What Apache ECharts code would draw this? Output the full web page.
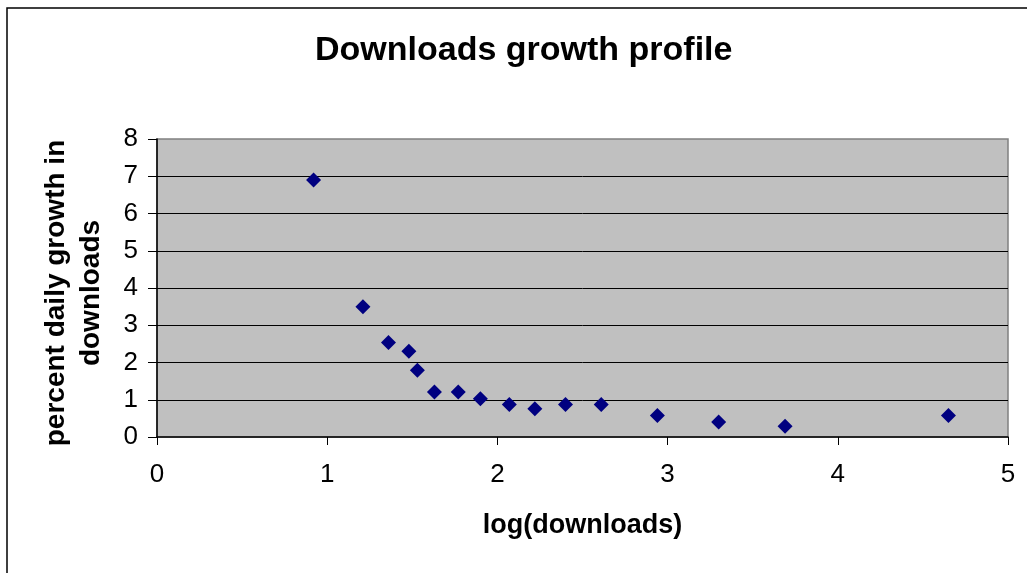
<!DOCTYPE html>
<html>
<head>
<meta charset="utf-8">
<script src="https://cdn.jsdelivr.net/npm/echarts@6/dist/echarts.min.js"></script>
<style>
html,body{margin:0;padding:0;background:#fff;}
#chart{width:1027px;height:573px;}
</style>
</head>
<body>
<div id="chart"></div>
<script>
const titleText = "Downloads growth profile";
const xAxisName = "log(downloads)";
const yAxisName = "percent daily growth in\ndownloads";
const logDownloads = [0.92, 1.21, 1.36, 1.48, 1.53, 1.63, 1.77, 1.90, 2.07, 2.22, 2.40, 2.61, 2.94, 3.30, 3.69, 4.65];
const dailyGrowth  = [6.9, 3.5, 2.54, 2.3, 1.79, 1.21, 1.21, 1.03, 0.87, 0.76, 0.87, 0.87, 0.58, 0.40, 0.29, 0.58];
const xTicks = [0, 1, 2, 3, 4, 5];
const yTicks = [0, 1, 2, 3, 4, 5, 6, 7, 8];

const points = logDownloads.map((x, i) => [x, dailyGrowth[i]]);
const font = "'Liberation Sans', Arial, sans-serif";

const chart = echarts.init(document.getElementById('chart'), null, {renderer: 'canvas'});
chart.setOption({
  animation: false,
  backgroundColor: '#ffffff',
  textStyle: {fontFamily: font},
  title: {
    text: titleText,
    left: 310,
    top: 29,
    textStyle: {fontFamily: font, fontSize: 34, fontWeight: 'bold', color: '#000'}
  },
  graphic: [{
    type: 'rect',
    shape: {x: 7, y: 8, width: 1100, height: 700},
    style: {fill: null, stroke: '#000', lineWidth: 1.5},
    silent: true,
    z: 100
  }],
  grid: {
    left: 157, top: 139, right: 19, bottom: 136,
    show: true,
    backgroundColor: '#c0c0c0',
    borderColor: '#808080',
    borderWidth: 1.5
  },
  xAxis: {
    type: 'value',
    min: xTicks[0], max: xTicks[xTicks.length - 1], interval: 1,
    name: xAxisName,
    nameLocation: 'middle',
    nameGap: 75,
    nameTextStyle: {fontFamily: font, fontSize: 27, fontWeight: 'bold', color: '#000'},
    axisLine: {show: true, onZero: false, lineStyle: {color: '#000', width: 1.5}},
    axisTick: {show: true, inside: false, length: 8, lineStyle: {color: '#000', width: 1}},
    axisLabel: {fontFamily: font, fontSize: 26, color: '#000', margin: 25},
    splitLine: {show: false}
  },
  yAxis: {
    type: 'value',
    min: yTicks[0], max: yTicks[yTicks.length - 1], interval: 1,
    name: yAxisName,
    nameLocation: 'middle',
    nameRotate: 90,
    nameGap: 48,
    nameTextStyle: {fontFamily: font, fontSize: 28, fontWeight: 'bold', color: '#000', lineHeight: 35, align: 'center', padding: [0, 10, 0, 0]},
    axisLine: {show: true, onZero: false, lineStyle: {color: '#000', width: 1.5}},
    axisTick: {show: true, inside: false, length: 9, lineStyle: {color: '#000', width: 1}},
    axisLabel: {fontFamily: font, fontSize: 26, color: '#000', margin: 19},
    splitLine: {show: true, showMinLine: false, showMaxLine: false, lineStyle: {color: '#000', width: 1}}
  },
  series: [{
    type: 'scatter',
    data: points,
    symbol: 'diamond',
    symbolSize: 15,
    itemStyle: {color: '#000080', opacity: 1}
  }]
});
</script>
</body>
</html>
